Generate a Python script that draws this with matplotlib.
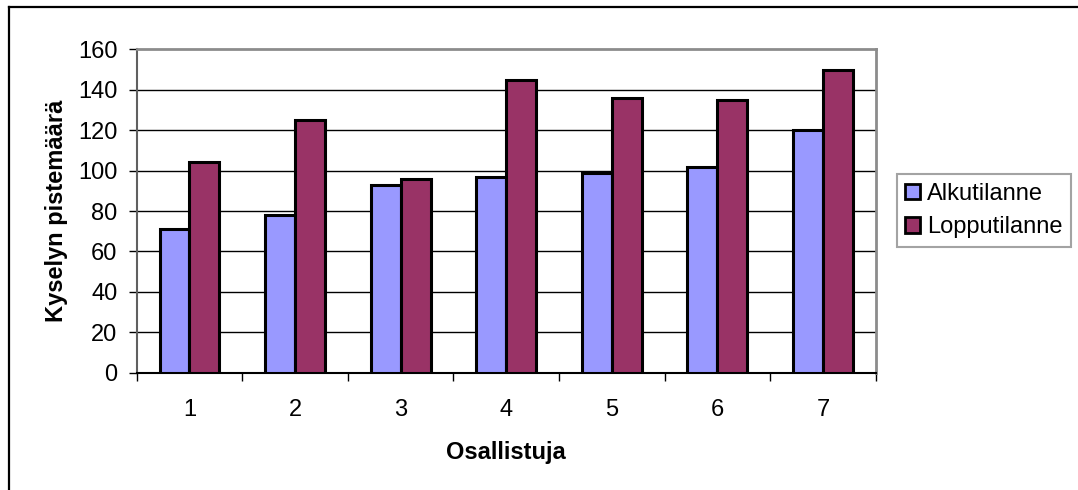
import matplotlib
matplotlib.use("Agg")
import matplotlib.pyplot as plt
from matplotlib.lines import Line2D
from matplotlib.patches import Patch
import numpy as np

plt.rcParams['font.family'] = ['Liberation Sans', 'DejaVu Sans']

participants = ['1', '2', '3', '4', '5', '6', '7']
alku = [71, 78, 93, 97, 99, 102, 120]
loppu = [104, 125, 96, 145, 136, 135, 150]
series_names = ['Alkutilanne', 'Lopputilanne']
y_ticks = [0, 20, 40, 60, 80, 100, 120, 140, 160]

W, H = 1078, 490
fig = plt.figure(figsize=(W / 100, H / 100), dpi=100)
fig.patch.set_facecolor('white')

# chart-area frame (left and top edges visible)
fig.add_artist(Line2D([9 / W, 9 / W], [0, 1 - 7 / H], transform=fig.transFigure,
                      color='black', lw=1.6))
fig.add_artist(Line2D([9 / W, 1], [1 - 7 / H, 1 - 7 / H], transform=fig.transFigure,
                      color='black', lw=1.6))

left, right, top, bottom = 136.7, 875.7, 49.3, 372.7
ax = fig.add_axes([left / W, 1 - bottom / H, (right - left) / W, (bottom - top) / H])

x = np.arange(1, len(participants) + 1)
w = 0.284
c_alku = '#9999FF'
c_loppu = '#993366'
ax.bar(x - w / 2, alku, width=w, color=c_alku, edgecolor='black', linewidth=2.2, zorder=3)
ax.bar(x + w / 2, loppu, width=w, color=c_loppu, edgecolor='black', linewidth=2.2, zorder=3)

ax.set_xlim(0.5, len(participants) + 0.5)
ax.set_ylim(0, 160)
ax.set_yticks(y_ticks)
ax.set_yticklabels([str(v) for v in y_ticks])
ax.set_xticks(x)
ax.set_xticklabels(participants)
ax.set_xticks(np.arange(0.5, len(participants) + 1), minor=True)

for v in y_ticks[1:-1]:
    ax.axhline(v, color='black', lw=1.0, zorder=1)

ax.tick_params(axis='y', direction='out', length=6, width=1.0, color='black',
               labelsize=17, pad=8)
ax.tick_params(axis='x', which='major', length=0, labelsize=17, pad=19)
ax.tick_params(axis='x', which='minor', direction='out', length=6, width=1.0, color='black')

for s in ['top', 'right']:
    ax.spines[s].set_color('#8c8c8c')
    ax.spines[s].set_linewidth(2.0)
ax.spines['left'].set_color('#606060')
ax.spines['left'].set_linewidth(1.5)
ax.spines['bottom'].set_color('black')
ax.spines['bottom'].set_linewidth(1.5)

ax.set_xlabel('Osallistuja', fontsize=17, fontweight='bold', labelpad=14)
ax.set_ylabel('Kyselyn pistemäärä', fontsize=17, fontweight='bold', labelpad=7)

handles = [Patch(facecolor=c_alku, edgecolor='black', linewidth=2.0),
           Patch(facecolor=c_loppu, edgecolor='black', linewidth=2.0)]
leg = fig.legend(handles, series_names, loc='center left',
                 bbox_to_anchor=(897 / W, 1 - 210.5 / H), bbox_transform=fig.transFigure,
                 fontsize=17, frameon=True, fancybox=False, shadow=False,
                 handlelength=0.62, handleheight=0.62, handletextpad=0.3,
                 borderpad=0.35, labelspacing=0.5, borderaxespad=0)
leg.get_frame().set_edgecolor('#8c8c8c')
leg.get_frame().set_linewidth(1.5)

fig.savefig('out.png', dpi=100)
